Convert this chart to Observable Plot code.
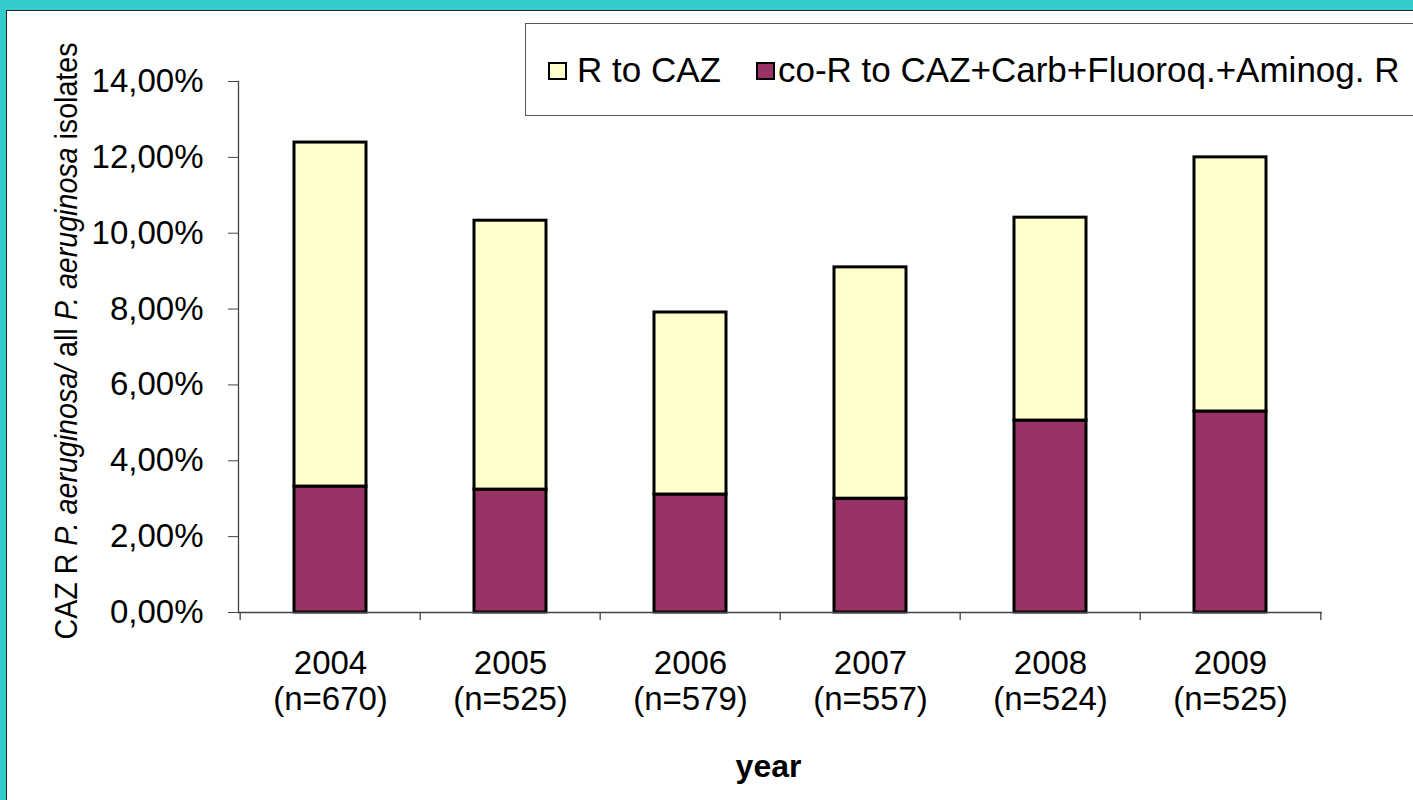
<!DOCTYPE html>
<html>
<head>
<meta charset="utf-8">
<script src="https://cdn.jsdelivr.net/npm/d3@7"></script>
<script src="https://cdn.jsdelivr.net/npm/@observablehq/plot@0.6"></script>
<style>
  html, body { margin: 0; padding: 0; width: 1413px; height: 800px; overflow: hidden; background: #33CCCC; }
  #page { position: absolute; left: 6px; top: 10px; right: 0; bottom: 0; background: #ffffff;
          border-left: 1.5px solid #222; border-top: 1.5px solid #222; }
  #chart { position: absolute; left: 0; top: 0; width: 1413px; height: 800px; }
  #legend { position: absolute; left: 525px; top: 23px; width: 920px; height: 91px; background: #fff;
            border: 1.5px solid #555; font-family: "Liberation Sans", Arial, sans-serif; font-size: 35px; color: #000; }
  .sw { position: absolute; width: 15px; height: 14px; border: 2.5px solid #000; }
  .lt { position: absolute; line-height: 35px; white-space: nowrap; }
</style>
</head>
<body>
<div id="page"></div>
<div id="chart"></div>
<div id="legend"></div>
<script>
// ---- data ----
const years = ["2004", "2005", "2006", "2007", "2008", "2009"];
const nLabels = ["(n=670)", "(n=525)", "(n=579)", "(n=557)", "(n=524)", "(n=525)"];
const coResistant = [3.32, 3.24, 3.11, 3.00, 5.06, 5.30];   // co-R (bottom, maroon)
const rToCazRest = [9.07, 7.09, 4.80, 6.10, 5.35, 6.70];    // remaining R to CAZ (top, yellow)
const seriesNames = ["co-R to CAZ+Carb+Fluoroq.+Aminog. R", "R to CAZ"];
const seriesColors = ["#993366", "#FFFFCC"];
const yTicks = [0, 2, 4, 6, 8, 10, 12, 14];
const legendOrder = ["R to CAZ", "co-R to CAZ+Carb+Fluoroq.+Aminog. R"];

const table = [];
years.forEach((y, i) => {
  table.push({year: y, series: seriesNames[0], value: coResistant[i]});
  table.push({year: y, series: seriesNames[1], value: rToCazRest[i]});
});

const W = 1413, H = 800, mL = 238, mR = 91, mT = 81, mB = 188;
const step = (W - mL - mR) / years.length;
const plotH = H - mT - mB;
const axisColor = "#444";

const plot = Plot.plot({
  width: W, height: H,
  marginLeft: mL, marginRight: mR, marginTop: mT, marginBottom: mB,
  style: {fontFamily: "'Liberation Sans', Arial, sans-serif", fontSize: "33px", color: "#000", background: "transparent", overflow: "visible"},
  x: {type: "band", domain: years, paddingInner: 0.6, paddingOuter: 0.3},
  y: {domain: [0, 14]},
  color: {domain: seriesNames, range: seriesColors},
  marks: [
    Plot.barY(table, {x: "year", y: "value", fill: "series", stroke: "#000", strokeWidth: 3}),
    Plot.frame({anchor: "left", stroke: axisColor, strokeWidth: 1.3}),
    Plot.ruleY([0], {stroke: axisColor, strokeWidth: 1.3}),
    Plot.axisY({ticks: yTicks, tickSize: 10, tickPadding: 25, label: null, stroke: axisColor,
      tickFormat: d => d.toFixed(2).replace(".", ",") + "%", fontSize: 33}),
    Plot.axisX({tickSize: 0, tickPadding: 36, label: null, fontSize: 33, lineHeight: 1.09,
      tickFormat: d => d + "\n" + nLabels[years.indexOf(d)]}),
    Plot.ruleX(years, {x: d => d, dx: -step / 2, insetTop: plotH, insetBottom: -8, stroke: axisColor, strokeWidth: 1.3}),
    Plot.ruleX(years.slice(-1), {x: d => d, dx: step / 2, insetTop: plotH, insetBottom: -8, stroke: axisColor, strokeWidth: 1.3}),
    Plot.text(["year"], {text: d => d, frameAnchor: "bottom", dx: -12, dy: 154, lineAnchor: "middle", fontWeight: "bold", fontSize: 32})
  ]
});
document.getElementById("chart").appendChild(plot);

// y-axis title with italic species names
const svg = d3.select(plot);
const yt = svg.append("text")
  .attr("transform", "translate(77,341) rotate(-90)")
  .attr("text-anchor", "middle")
  .attr("font-size", 31)
  .attr("fill", "#000")
  .attr("textLength", 597)
  .attr("lengthAdjust", "spacingAndGlyphs");
yt.append("tspan").text("CAZ R ");
yt.append("tspan").attr("font-style", "italic").text("P. aeruginosa/");
yt.append("tspan").text(" all ");
yt.append("tspan").attr("font-style", "italic").text("P. aeruginosa");
yt.append("tspan").text(" isolates");

// legend
const color = plot.scale("color");
const colorOf = name => color.range[color.domain.indexOf(name)];
const legend = document.getElementById("legend");
const legendPos = [{sw: 22, tx: 51}, {sw: 230, tx: 252}];
legendOrder.forEach((name, i) => {
  const sw = document.createElement("div");
  sw.className = "sw";
  sw.style.left = legendPos[i].sw + "px";
  sw.style.top = "38px";
  sw.style.background = colorOf(name);
  legend.appendChild(sw);
  const t = document.createElement("div");
  t.className = "lt";
  t.style.left = legendPos[i].tx + "px";
  t.style.top = "28px";
  t.textContent = name;
  legend.appendChild(t);
});
</script>
</body>
</html>
